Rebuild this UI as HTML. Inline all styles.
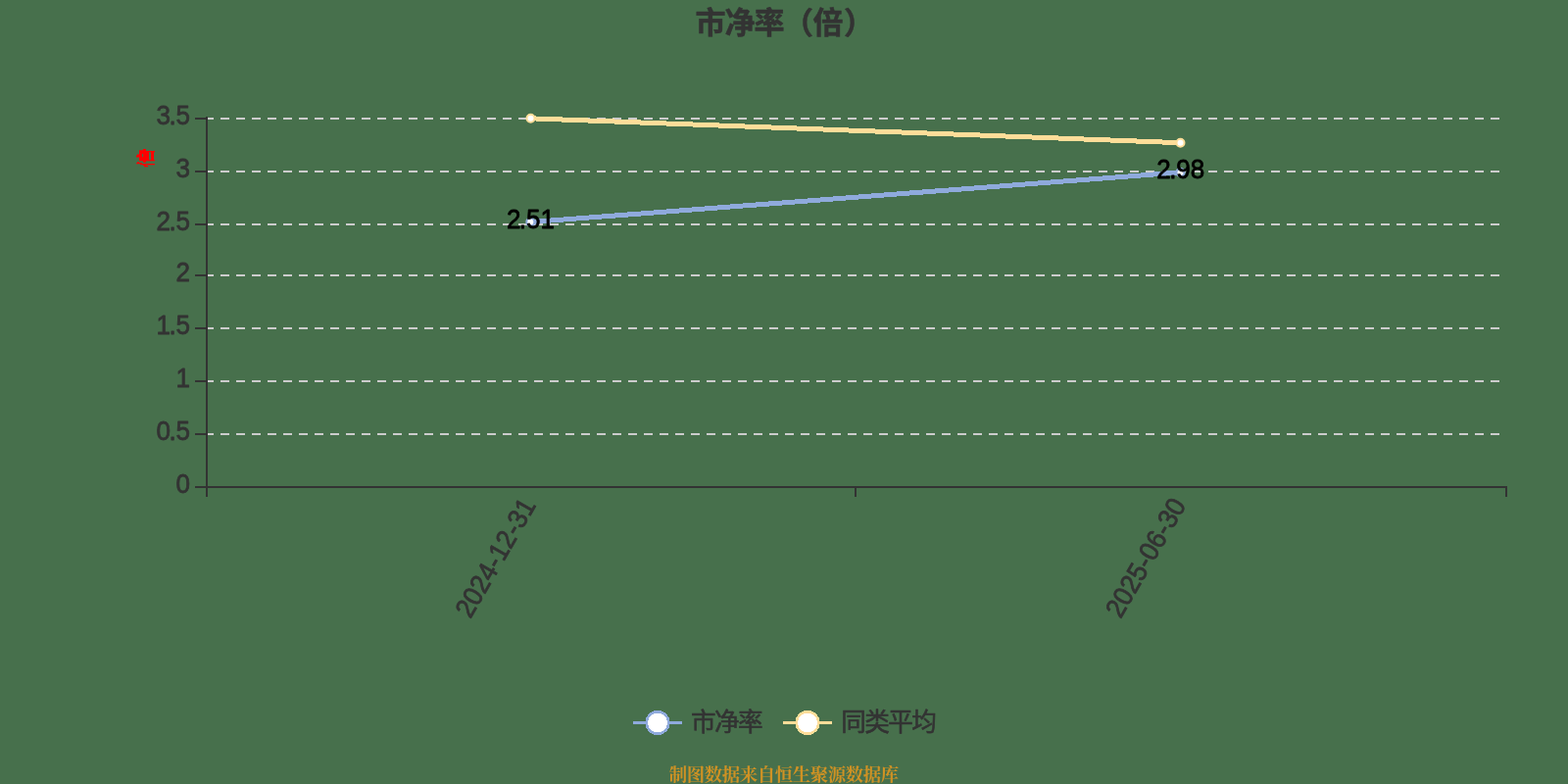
<!DOCTYPE html>
<html lang="zh-CN">
<head>
<meta charset="utf-8">
<title>市净率（倍）</title>
<style>
html,body{margin:0;padding:0;background:#47704C;}
body{width:1600px;height:800px;overflow:hidden;font-family:"Liberation Sans",sans-serif;}
svg{display:block;will-change:transform;}
text{font-family:"Liberation Sans","Noto Sans CJK SC",sans-serif;}
.ax{font-size:28px;fill:#333333;stroke:#333333;stroke-width:0.8px;stroke-linejoin:round;}
.dl{font-size:28px;fill:#000;stroke:#000;stroke-width:0.8px;stroke-linejoin:round;}
</style>
</head>
<body>
<svg width="1600" height="800" viewBox="0 0 1600 800">
<rect width="1600" height="800" fill="#47704C"/>

<!-- title -->
<text x="709.5 739.5 769.5 798.9 829.5 860.9" y="34.4" font-size="31" font-weight="bold" fill="#333333" stroke="#333333" stroke-width="0.5" stroke-linejoin="round" style="font-family:'Liberation Sans','Noto Sans CJK SC',sans-serif;">市净率（倍）</text>
<!-- split lines -->
<g stroke="#CCCCCC" stroke-width="2" stroke-dasharray="9 7" fill="none" shape-rendering="crispEdges">
<line x1="209" y1="121" x2="1537" y2="121"/>
<line x1="209" y1="175" x2="1537" y2="175"/>
<line x1="209" y1="229" x2="1537" y2="229"/>
<line x1="209" y1="281" x2="1537" y2="281"/>
<line x1="209" y1="335" x2="1537" y2="335"/>
<line x1="209" y1="389" x2="1537" y2="389"/>
<line x1="209" y1="443" x2="1537" y2="443"/>
</g>
<!-- axes -->
<g stroke="#333333" stroke-width="2" fill="none" shape-rendering="crispEdges">
<line x1="211" y1="119" x2="211" y2="507"/>
<line x1="210" y1="497" x2="1538" y2="497"/>
<line x1="873" y1="497" x2="873" y2="507"/>
<line x1="1537" y1="497" x2="1537" y2="507"/>
<line x1="199" y1="121" x2="211" y2="121"/>
<line x1="199" y1="175" x2="211" y2="175"/>
<line x1="199" y1="229" x2="211" y2="229"/>
<line x1="199" y1="281" x2="211" y2="281"/>
<line x1="199" y1="335" x2="211" y2="335"/>
<line x1="199" y1="389" x2="211" y2="389"/>
<line x1="199" y1="443" x2="211" y2="443"/>
<line x1="199" y1="497" x2="211" y2="497"/>
</g>
<!-- y axis labels -->
<g class="ax">
<text transform="scale(0.93,1)" x="171.57 185.36 193.08" y="126.7">3.5</text>
<text transform="scale(0.93,1)" x="193.08" y="180.7">3</text>
<text transform="scale(0.93,1)" x="171.57 185.36 193.08" y="234.7">2.5</text>
<text transform="scale(0.93,1)" x="193.08" y="286.7">2</text>
<text transform="scale(0.93,1)" x="171.57 185.36 193.08" y="340.7">1.5</text>
<text transform="scale(0.93,1)" x="193.08" y="394.7">1</text>
<text transform="scale(0.93,1)" x="171.57 185.36 193.08" y="448.7">0.5</text>
<text transform="scale(0.93,1)" x="193.08" y="502.7">0</text>
</g>
<!-- x axis labels -->
<g class="ax">
<text transform="translate(538.7,510.4) rotate(-60) scale(0.93,1)" x="-144.77 -129.29 -113.81 -98.32 -82.24 -72.41 -56.92 -40.84 -31.01 -15.53" y="10">2024-12-31</text>
<text transform="translate(1202.2,510.4) rotate(-60) scale(0.93,1)" x="-144.77 -129.29 -113.81 -98.32 -82.24 -72.41 -56.92 -40.84 -31.01 -15.53" y="10">2025-06-30</text>
</g>
<!-- tiny red mark -->
<path fill="#FF0000" d="M146 152h3v2h9v1.2h-1v7.8h1v1.2h-9v1.6h-3v-1.6h-4v-3.8h-3v-2h1v-1h2v-4.2h4zM152 155.2v7.8h2v-7.8zM145 157v3h1.1v-3zM140 165.2h2v.8h3v1h13v1.2h-9v.8h2v1.2h-4v-1.2h-1v-.8h-3v-1h-4v-1h1z"/>
<!-- series lines -->
<polyline fill="none" stroke="#8FAADC" stroke-width="5" shape-rendering="crispEdges" points="541.3,226.6 1204.5,175.9"/>
<polyline fill="none" stroke="#FFDD99" stroke-width="5" shape-rendering="crispEdges" points="541.5,120.8 1204.5,145.7"/>
<circle cx="541.3" cy="226.6" r="4" fill="#fff" stroke="#8FAADC" stroke-width="2"/>
<circle cx="1204.5" cy="175.9" r="4" fill="#fff" stroke="#8FAADC" stroke-width="2"/>
<circle cx="541.5" cy="120.8" r="4" fill="#fff" stroke="#FFDD99" stroke-width="2"/>
<circle cx="1204.5" cy="145.7" r="4" fill="#fff" stroke="#FFDD99" stroke-width="2"/>
<!-- data labels -->
<g class="dl">
<text transform="scale(0.93,1)" x="555.98 569.76 577.48 592.97" y="233.1">2.51</text>
<text transform="scale(0.93,1)" x="1269.21 1282.99 1290.71 1306.19" y="182.5">2.98</text>
</g>
<!-- legend -->
<line x1="646" y1="737.5" x2="696" y2="737.5" stroke="#8FAADC" stroke-width="3"/>
<circle cx="671" cy="737.5" r="11.3" fill="#fff" stroke="#8FAADC" stroke-width="2.5" shape-rendering="crispEdges"/>
<line x1="799" y1="737.5" x2="849" y2="737.5" stroke="#FFDD99" stroke-width="3"/>
<circle cx="824" cy="737.5" r="11.3" fill="#fff" stroke="#FFDD99" stroke-width="2.5" shape-rendering="crispEdges"/>
<text x="704.9 728.9 752.9" y="745.5" font-size="25.6" fill="#333333" stroke="#333333" stroke-width="0.6" stroke-linejoin="round" style="font-family:'Liberation Sans','Noto Sans CJK SC',sans-serif;">市净率</text>
<text x="858.2 882.2 906.2 930.2" y="745.5" font-size="25.6" fill="#333333" stroke="#333333" stroke-width="0.6" stroke-linejoin="round" style="font-family:'Liberation Sans','Noto Sans CJK SC',sans-serif;">同类平均</text>
<!-- footer -->
<text x="682.8 700.8 718.8 736.8 754.8 772.8 790.8 808.8 826.8 844.8 862.8 880.8 898.8" y="797.2" font-size="18.4" font-weight="bold" fill="#CF9224" style="font-family:'Liberation Serif','Noto Serif CJK SC',serif;">制图数据来自恒生聚源数据库</text>
</svg>
</body>
</html>
